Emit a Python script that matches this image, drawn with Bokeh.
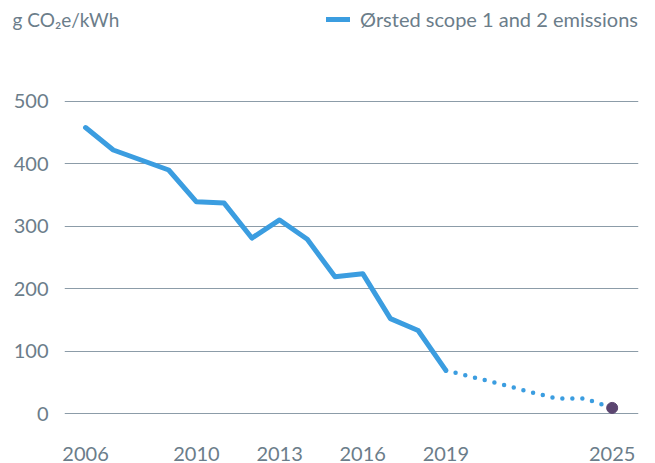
from bokeh.plotting import figure
from bokeh.models import Range1d, FixedTicker, Legend, LegendItem, Label
from bokeh.layouts import column
from bokeh.embed import file_html
from bokeh.resources import INLINE

# Actual emissions (g CO2e/kWh)
years = [2006, 2007, 2008, 2009, 2010, 2011, 2012, 2013, 2014, 2015, 2016, 2017, 2018, 2019]
emissions = [458, 422, 406, 390, 339, 337, 281, 310, 279, 219, 224, 152, 133, 69]

# Projected pathway to target
proj_years = [2019, 2020, 2021, 2022, 2023, 2024, 2025]
proj_values = [69, 58, 47, 35, 24, 24, 9]

target_year = [2025]
target_value = [9]

x_ticks = [2006, 2010, 2013, 2016, 2019, 2025]
y_ticks = [0, 100, 200, 300, 400, 500]

TEXT = "#6b7d8a"
BLUE = "#3b9de0"
FONT = "Lato"

# ---- header: unit label + legend (its own frame, not aligned with the chart) ----
head = figure(width=655, height=38, output_backend="svg", toolbar_location=None,
              x_axis_type=None, y_axis_type=None, x_range=Range1d(0, 1), y_range=Range1d(0, 1),
              min_border_left=0, min_border_right=17, min_border_top=0, min_border_bottom=0)
head.frame_align = False
head.outline_line_color = None
head.grid.visible = False
head.background_fill_color = None
head.border_fill_color = None

# legend key: the series itself, out of the header's view range (only its key is shown)
r_key = head.line(years, emissions, line_color=BLUE, line_width=5, line_cap="round")
legend = Legend(items=[LegendItem(label="Ørsted scope 1 and 2 emissions", renderers=[r_key])],
                location="top_right", background_fill_alpha=0, border_line_color=None,
                label_text_font=FONT, label_text_font_size="20px", label_text_color=TEXT,
                glyph_width=24, glyph_height=38, label_height=38, label_standoff=10,
                padding=0, margin=0, spacing=0)
head.add_layout(legend)

unit = Label(x=12, y=19, x_units="canvas", y_units="canvas", text="g CO₂e/kWh",
             text_font=FONT, text_font_size="19px", text_color=TEXT, text_baseline="middle")
head.add_layout(unit)

# ---- main chart ----
p = figure(width=655, height=425, output_backend="svg", toolbar_location=None,
           x_range=Range1d(2005.24, 2025.95), y_range=Range1d(-27.2, 600.6),
           min_border_left=64, min_border_right=17, min_border_top=0, min_border_bottom=20)
p.outline_line_color = None
p.background_fill_color = None
p.border_fill_color = None

p.line(years, emissions, line_color=BLUE, line_width=5, line_join="round", line_cap="round")
p.line(proj_years, proj_values, line_color=BLUE, line_width=4.5, line_dash="0 10", line_cap="round")
p.scatter(target_year, target_value, size=11, color="#5b4570")

p.xgrid.visible = False
p.ygrid.grid_line_color = "#8c9ca8"
p.ygrid.grid_line_width = 1.2
p.yaxis.ticker = FixedTicker(ticks=y_ticks)
p.ygrid.ticker = FixedTicker(ticks=y_ticks)
p.xaxis.ticker = FixedTicker(ticks=x_ticks)

for ax in (p.xaxis[0], p.yaxis[0]):
    ax.axis_line_color = None
    ax.major_tick_line_color = None
    ax.minor_tick_line_color = None
    ax.major_label_text_color = TEXT
    ax.major_label_text_font = FONT
    ax.major_label_text_font_size = "20px"
p.yaxis.major_label_standoff = 10
p.xaxis.major_label_standoff = 10

layout = column(head, p, spacing=0)
open("out.html", "w").write(file_html(layout, INLINE))
